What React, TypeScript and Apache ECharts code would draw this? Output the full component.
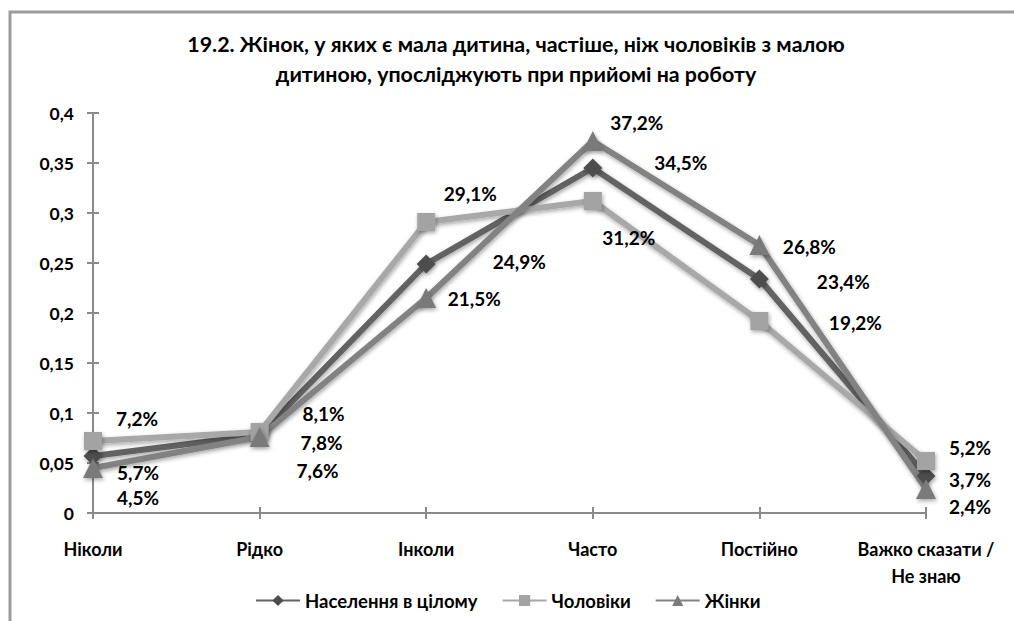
import React, { useEffect, useRef } from "react";
import * as echarts from "echarts";

const titleText = "19.2. Жінок, у яких є мала дитина, частіше, ніж чоловіків з малою\nдитиною, упосліджують при прийомі на роботу";
const categories = ["Ніколи", "Рідко", "Інколи", "Часто", "Постійно", "Важко сказати /\nНе знаю"];
const seriesNames = ["Населення в цілому", "Чоловіки", "Жінки"];
const population = [0.057, 0.078, 0.249, 0.345, 0.234, 0.037];
const men = [0.072, 0.081, 0.291, 0.312, 0.192, 0.052];
const women = [0.045, 0.076, 0.215, 0.372, 0.268, 0.024];

// label offsets (styling) for each point, relative to marker center
const popOffsets = [[45, 16], [62, 7], [93, -3], [88, -6], [84, 2], [44, 3]];
const menOffsets = [[44, -23], [64, -19], [44, -29], [36, 36], [96, 1], [44, -14]];
const womenOffsets = [[45, 29], [58, 33], [48, 0], [44, -19], [50, 1], [44, 17]];

const FONT = "Lato, 'Open Sans', sans-serif";

function fmtPct(v: number) {
  return (Math.round(v * 1000) / 10).toFixed(1).replace(".", ",") + "%";
}

function buildSeries(name: string, values: number[], offsets: number[][], color: string, markColor: string, symbol: string, size: number) {
  return {
    type: "line",
    name,
    data: values.map((v, i) => ({
      value: v,
      label: { offset: offsets[i] },
    })),
    symbol,
    symbolSize: size,
    showAllSymbol: true,
    lineStyle: { color, width: 6, shadowBlur: 4, shadowColor: "rgba(0,0,0,0.35)", shadowOffsetX: 1, shadowOffsetY: 2 },
    itemStyle: { color: markColor, shadowBlur: 4, shadowColor: "rgba(0,0,0,0.35)", shadowOffsetX: 1, shadowOffsetY: 2 },
    label: {
      show: true,
      position: "inside",
      formatter: (p: any) => fmtPct(p.value),
      color: "#000",
      fontFamily: FONT,
      fontWeight: "bold",
      fontSize: 19,
    },
    emphasis: { disabled: true },
  };
}

export default function App() {
  const ref = useRef<HTMLDivElement>(null);
  useEffect(() => {
    if (!ref.current) return;
    const chart = echarts.init(ref.current, undefined, { renderer: "svg" });
    const yLabel = (v: number) => String(Math.round(v * 100) / 100).replace(".", ",");
    chart.setOption({
      animation: false,
      backgroundColor: "#fff",
      textStyle: { fontFamily: FONT },
      graphic: [
        {
          type: "rect",
          shape: { x: 10, y: 12, width: 1200, height: 800 },
          style: { fill: "none", stroke: "#9b9b9b", lineWidth: 3 },
          silent: true,
        },
      ],
      title: {
        text: titleText,
        left: 511,
        top: 24,
        textAlign: "center",
        textStyle: { fontFamily: FONT, fontWeight: "bold", fontSize: 21.4, color: "#000", lineHeight: 30, align: "center" },
      },
      legend: {
        data: seriesNames,
        bottom: 6,
        left: 250,
        itemWidth: 44,
        itemHeight: 14,
        itemGap: 24,
        textStyle: { fontFamily: FONT, fontWeight: "bold", fontSize: 18.5, color: "#000" },
      },
      grid: { left: 93, right: 88, top: 113, bottom: 108, containLabel: false },
      xAxis: [
        {
          type: "category",
          data: categories,
          boundaryGap: false,
          axisLine: { lineStyle: { color: "#8a8a8a", width: 2 } },
          axisTick: { show: true, length: 6, lineStyle: { color: "#8a8a8a", width: 2 } },
          axisLabel: { color: "#000", fontFamily: FONT, fontWeight: "bold", fontSize: 18, margin: 22, lineHeight: 27, interval: 0 },
          splitLine: { show: false },
        },
        {
          type: "category",
          data: categories,
          boundaryGap: false,
          position: "bottom",
          axisLine: { show: false },
          axisTick: { show: true, inside: true, length: 6, lineStyle: { color: "#8a8a8a", width: 2 } },
          axisLabel: { show: false },
          splitLine: { show: false },
        },
      ],
      yAxis: [
        {
          type: "value",
          min: 0,
          max: 0.4,
          interval: 0.05,
          axisLine: { show: true, lineStyle: { color: "#8a8a8a", width: 2 } },
          axisTick: { show: true, length: 6, lineStyle: { color: "#8a8a8a", width: 2 } },
          axisLabel: { color: "#000", fontFamily: FONT, fontWeight: "bold", fontSize: 17.5, margin: 19, formatter: yLabel },
          splitLine: { show: false },
        },
        {
          type: "value",
          min: 0,
          max: 0.4,
          interval: 0.05,
          position: "left",
          axisLine: { show: false },
          axisTick: { show: true, inside: true, length: 6, lineStyle: { color: "#8a8a8a", width: 2 } },
          axisLabel: { show: false },
          splitLine: { show: false },
        },
      ],
      series: [
        buildSeries(seriesNames[0], population, popOffsets, "#626262", "#4d4d4d", "diamond", 19),
        buildSeries(seriesNames[1], men, menOffsets, "#a8a8a8", "#a3a3a3", "rect", 18),
        buildSeries(seriesNames[2], women, womenOffsets, "#828282", "#7a7a7a", "triangle", 20),
      ],
    });
    return () => chart.dispose();
  }, []);
  return <div ref={ref} style={{ position: "fixed", left: 0, top: 0, width: 1014, height: 621 }} />;
}
